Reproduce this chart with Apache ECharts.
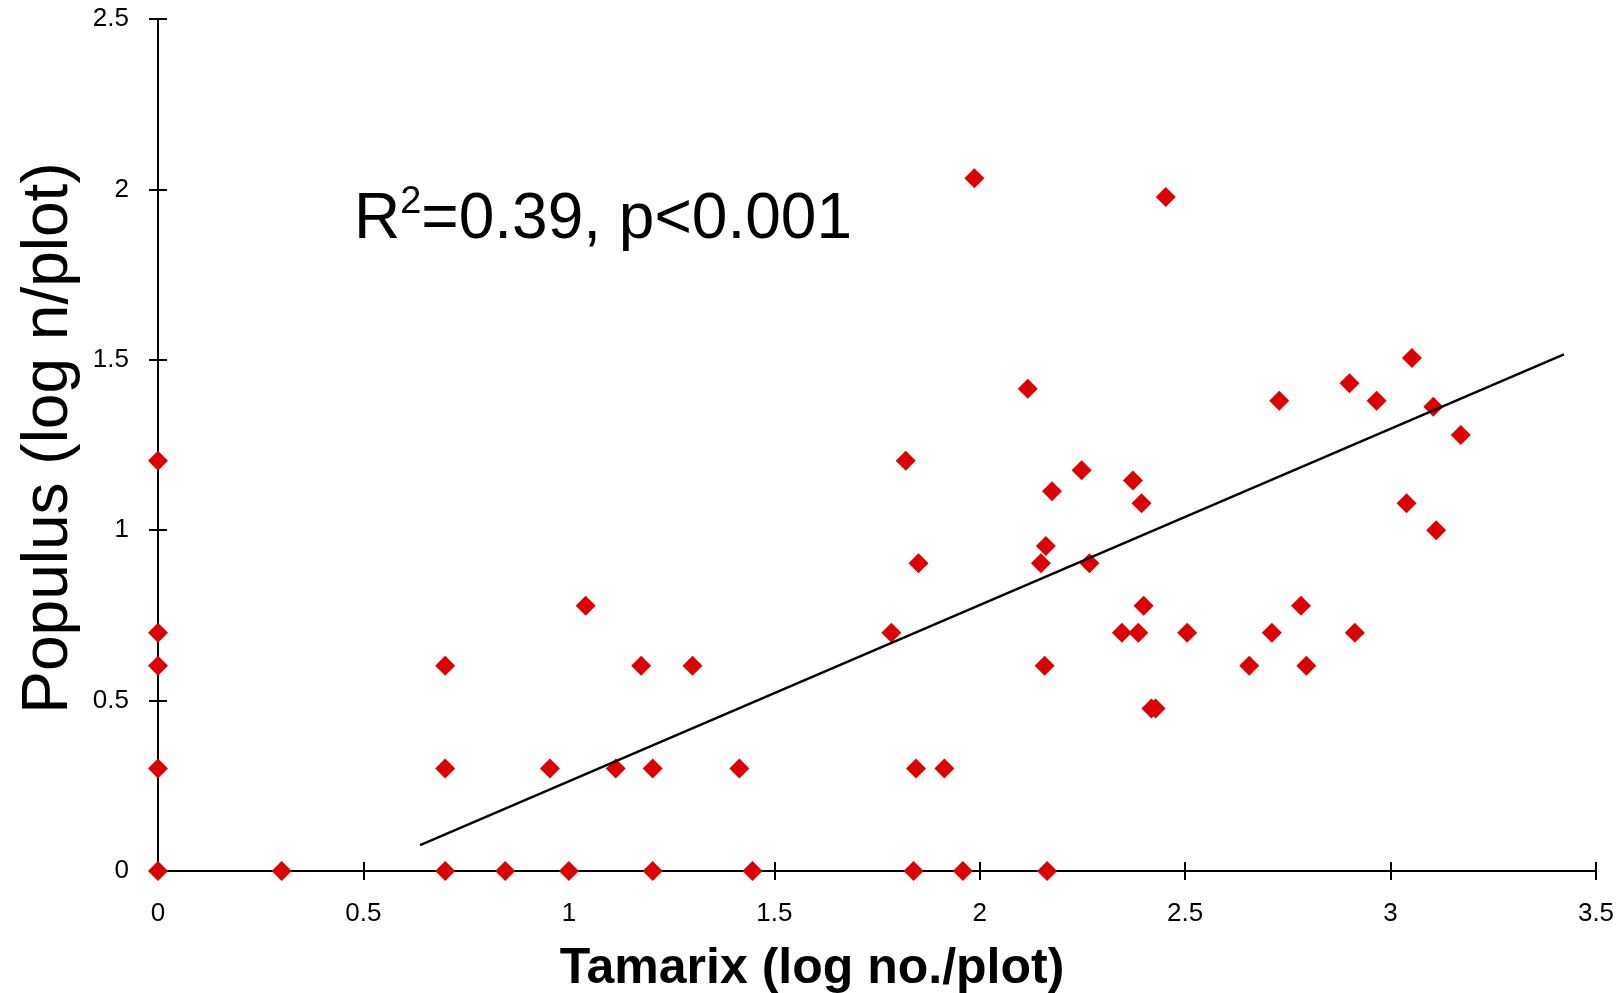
<!DOCTYPE html>
<html>
<head>
<meta charset="utf-8">
<script src="https://cdn.jsdelivr.net/npm/echarts@6/dist/echarts.min.js"></script>
<style>
html,body{margin:0;padding:0;background:#fff;}
#chart{width:1618px;height:993px;}
</style>
</head>
<body>
<div id="chart"></div>
<script>
// Tamarix (x, log no./plot) and Populus (y, log n/plot) per plot
const tamarix = [0, 0, 0, 0, 0, 0.301, 0.699, 0.845, 1.0, 1.204, 1.447, 1.839, 1.959, 2.164,
  0.699, 0.699, 0.954, 1.041, 1.114, 1.176, 1.204, 1.301, 1.415,
  1.785, 1.820, 1.851, 1.845, 1.914, 1.987, 2.117, 2.149, 2.161, 2.158, 2.176, 2.248, 2.267,
  2.346, 2.373, 2.386, 2.394, 2.399, 2.418, 2.428, 2.453, 2.505, 2.656, 2.711, 2.729, 2.782,
  2.795, 2.900, 2.913, 2.966, 3.039, 3.052, 3.104, 3.111, 3.171];
const populus = [0, 0.301, 0.602, 0.699, 1.204, 0, 0, 0, 0, 0, 0, 0, 0, 0,
  0.602, 0.301, 0.301, 0.778, 0.301, 0.602, 0.301, 0.602, 0.301,
  0.699, 1.204, 0.903, 0.301, 0.301, 2.033, 1.415, 0.903, 0.954, 0.602, 1.114, 1.176, 0.903,
  0.699, 1.146, 0.699, 1.079, 0.778, 0.477, 0.477, 1.978, 0.699, 0.602, 0.699, 1.380, 0.778,
  0.602, 1.431, 0.699, 1.380, 1.079, 1.505, 1.362, 1.000, 1.279];
// Fitted regression line end points
const trendX = [0.638, 3.422];
const trendY = [0.076, 1.516];
const xTitle = 'Tamarix (log no./plot)';
const yTitle = 'Populus (log n/plot)';

const points = tamarix.map((x, i) => [x, populus[i]]);
const trend = trendX.map((x, i) => [x, trendY[i]]);

const FONT = '"Liberation Sans", Arial, sans-serif';
const chart = echarts.init(document.getElementById('chart'));

const baseX = {min: 0, max: 3.5, interval: 0.5, splitLine: {show: false}};
const baseY = {min: 0, max: 2.5, interval: 0.5, splitLine: {show: false}};

chart.setOption({
  backgroundColor: '#fff',
  animation: false,
  grid: {left: 158, right: 22, top: 19, bottom: 122, containLabel: false, outerBoundsMode: 'none'},
  xAxis: [
    Object.assign({}, baseX, {
      type: 'value', position: 'bottom',
      axisLine: {show: true, onZero: false, lineStyle: {color: '#000', width: 2}},
      axisTick: {show: true, length: 9, lineStyle: {color: '#000', width: 2}},
      axisLabel: {color: '#000', fontSize: 26, fontFamily: FONT, margin: 30},
      name: xTitle, nameLocation: 'middle', nameGap: 73,
      nameTextStyle: {color: '#000', fontSize: 50, fontWeight: 'bold', fontFamily: FONT, padding: [0, 130, 0, 0]}
    }),
    Object.assign({}, baseX, {
      type: 'value', position: 'bottom',
      axisLine: {show: false},
      axisTick: {show: true, inside: true, length: 9, lineStyle: {color: '#000', width: 2}},
      axisLabel: {show: false}
    })
  ],
  yAxis: [
    Object.assign({}, baseY, {
      type: 'value', position: 'left',
      axisLine: {show: true, onZero: false, lineStyle: {color: '#000', width: 2}},
      axisTick: {show: true, length: 9, lineStyle: {color: '#000', width: 2}},
      axisLabel: {color: '#000', fontSize: 26, fontFamily: FONT, margin: 29},
      name: yTitle, nameLocation: 'middle', nameGap: 77, nameRotate: 90,
      nameTextStyle: {color: '#000', fontSize: 64, fontFamily: FONT, padding: [0, 0, 0, 14]}
    }),
    Object.assign({}, baseY, {
      type: 'value', position: 'left',
      axisLine: {show: false},
      axisTick: {show: true, inside: true, length: 9, lineStyle: {color: '#000', width: 2}},
      axisLabel: {show: false}
    })
  ],
  series: [
    {
      type: 'scatter', data: points, symbol: 'diamond', symbolSize: 20,
      itemStyle: {color: '#DC0000', opacity: 1}, z: 3
    },
    {
      type: 'line', data: trend, symbol: 'none', silent: true,
      lineStyle: {color: '#000', width: 2.4}, z: 4
    }
  ],
  graphic: [{
    type: 'text', left: 354, top: 184, z: 10,
    style: {
      text: '{b|R}{s|2}{b|=0.39, p<0.001}',
      rich: {
        b: {fontSize: 64, fontFamily: FONT, fill: '#000', verticalAlign: 'bottom', lineHeight: 68},
        s: {fontSize: 38, fontFamily: FONT, fill: '#000', verticalAlign: 'top', lineHeight: 68}
      }
    }
  }]
});
</script>
</body>
</html>
